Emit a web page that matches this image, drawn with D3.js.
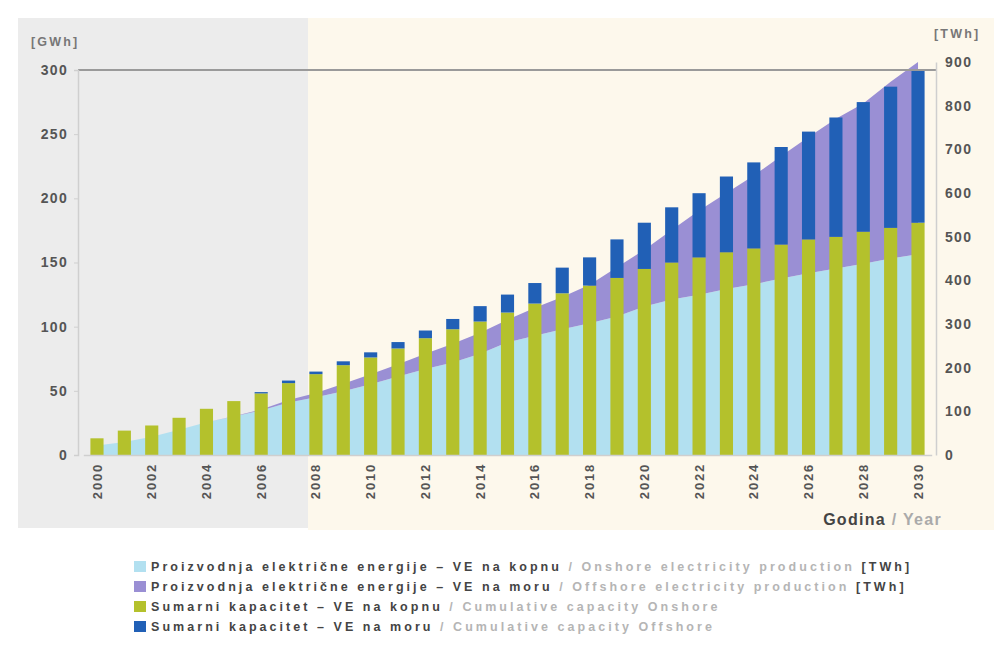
<!DOCTYPE html>
<html>
<head>
<meta charset="utf-8">
<script src="https://cdn.jsdelivr.net/npm/d3@7"></script>
<style>
  body { margin: 0; background: #fff; }
  svg { display: block; font-family: "Liberation Sans", Arial, sans-serif; }
</style>
</head>
<body>
<div id="chart"></div>
<script>
var w = 1000;
var h = 666;

// data
var years = d3.range(2000, 2031);
// cumulative capacity [GW] (left axis)
var capOnshore = [13, 19, 23, 29, 36, 42, 48, 56, 63, 70, 76, 83, 91, 98, 104, 111, 118, 126, 132, 138, 145, 150, 154, 158, 161, 164, 168, 170, 174, 177, 181];
var capOffshore = [0, 0, 0, 0, 0, 0, 1, 2, 2, 3, 4, 5, 6, 8, 12, 14, 16, 20, 22, 30, 36, 43, 50, 59, 67, 76, 84, 93, 101, 110, 119];
// electricity production [TWh] (right axis)
var prodOnshore = [22, 30, 42, 58, 75, 88, 102, 120, 132, 146, 162, 180, 197, 212, 232, 258, 273, 288, 302, 317, 340, 356, 367, 380, 391, 404, 416, 427, 438, 450, 460];
var prodOffshore = [0, 0, 0, 0, 0, 1, 2, 6, 10, 17, 23, 28, 35, 43, 48, 52, 64, 74, 88, 113, 130, 159, 193, 220, 249, 281, 312, 343, 367, 405, 440];
var leftTicks = [0, 50, 100, 150, 200, 250, 300];
var rightTicks = [0, 100, 200, 300, 400, 500, 600, 700, 800, 900];
var legendRows = [
  ["Proizvodnja električne energije – VE na kopnu", "Onshore electricity production", " [TWh]"],
  ["Proizvodnja električne energije – VE na moru", "Offshore electricity production", " [TWh]"],
  ["Sumarni kapacitet – VE na kopnu", "Cumulative capacity Onshore", ""],
  ["Sumarni kapacitet – VE na moru", "Cumulative capacity Offshore", ""]
];
var colors = ["#b2e0f0", "#9a8fd4", "#b4c12c", "#2160b6"];

var plotTop = 70, plotBottom = 455, plotLeft = 78, plotRight = 936;

var svg = d3.select("#chart").append("svg")
  .attr("width", w)
  .attr("height", h);

// backgrounds
svg.append("rect").attr("x", 18).attr("y", 18).attr("width", 290).attr("height", 510).attr("fill", "#ececec");
svg.append("rect").attr("x", 308).attr("y", 18).attr("width", 686).attr("height", 512).attr("fill", "#fdf8ec");

// scales
var x = d3.scaleBand()
  .domain(years)
  .range([83.3, 931.7])
  .paddingInner(0.52)
  .paddingOuter(0.26);
var yL = d3.scaleLinear().domain([0, 300]).range([plotBottom, plotTop]);
var yR = d3.scaleLinear().domain([0, 900]).range([plotBottom, 62]);
var cx = function(d) { return x(d) + x.bandwidth() / 2; };

// production areas (stacked)
var prodRows = years.map(function(y, i) {
  return { year: y, on: prodOnshore[i], off: prodOffshore[i] };
});
var prodStack = d3.stack().keys(["on", "off"])(prodRows);
var area = d3.area()
  .x(function(d) { return cx(d.data.year); })
  .y0(function(d) { return yR(d[0]); })
  .y1(function(d) { return yR(d[1]); });
svg.append("g").selectAll("path")
  .data(prodStack)
  .enter().append("path")
  .attr("d", area)
  .attr("fill", function(d, i) { return colors[i]; });

// capacity bars (stacked)
var capRows = years.map(function(y, i) {
  return { year: y, on: capOnshore[i], off: capOffshore[i] };
});
var capStack = d3.stack().keys(["on", "off"])(capRows);
svg.append("g").selectAll("g")
  .data(capStack)
  .enter().append("g")
  .attr("fill", function(d, i) { return colors[i + 2]; })
  .selectAll("rect")
  .data(function(d) { return d; })
  .enter().append("rect")
  .attr("x", function(d) { return x(d.data.year); })
  .attr("y", function(d) { return yL(d[1]); })
  .attr("width", x.bandwidth())
  .attr("height", function(d) { return yL(d[0]) - yL(d[1]); });

// top line
svg.append("line")
  .attr("x1", plotLeft).attr("x2", plotRight)
  .attr("y1", plotTop).attr("y2", plotTop)
  .attr("stroke", "#9a9a9a").attr("stroke-width", 2);

// axes
var axisL = d3.axisLeft(yL).tickValues(leftTicks).tickSize(4).tickPadding(6);
var axisR = d3.axisRight(yR).tickValues(rightTicks).tickSize(0).tickPadding(9);
var axisB = d3.axisBottom(x).tickValues(years.filter(function(d) { return d % 2 === 0; })).tickSize(0);

var gL = svg.append("g").attr("transform", "translate(" + plotLeft + ",0)").call(axisL);
var gR = svg.append("g").attr("transform", "translate(" + plotRight + ",0)").call(axisR);
var gB = svg.append("g").attr("transform", "translate(0," + plotBottom + ")").call(axisB);

[gL, gR, gB].forEach(function(g) {
  g.select(".domain").attr("stroke", "#cfcfcf").attr("stroke-width", 1.5);
  g.selectAll(".tick line").attr("stroke", "#cfcfcf");
  g.selectAll("text")
    .attr("fill", "#555")
    .style("font-size", "14px")
    .style("font-weight", "bold")
    .style("letter-spacing", "1.3px")
    .style("font-family", "'Liberation Sans', Arial, sans-serif");
});
gB.selectAll("text")
  .attr("transform", "rotate(-90)")
  .attr("text-anchor", "end")
  .attr("x", -8)
  .attr("y", 0)
  .attr("dy", "0.35em")
  .style("font-size", "13px")
  .style("letter-spacing", "1.8px");

// unit labels
svg.append("text").attr("x", 31).attr("y", 46)
  .attr("fill", "#777").style("font-size", "12.5px").style("font-weight", "bold")
  .style("letter-spacing", "2.2px")
  .text("[GWh]");
svg.append("text").attr("x", 934).attr("y", 38)
  .attr("fill", "#777").style("font-size", "12.5px").style("font-weight", "bold")
  .style("letter-spacing", "2.2px")
  .text("[TWh]");

// x axis title
var xt = svg.append("text").attr("x", 942).attr("y", 525).attr("text-anchor", "end")
  .style("font-size", "16px").style("font-weight", "bold")
  .style("letter-spacing", "1.3px");
xt.append("tspan").attr("fill", "#444").text("Godina ");
xt.append("tspan").attr("fill", "#aaa").text("/ Year");

// legend
var lg = svg.append("g").selectAll("g")
  .data(legendRows)
  .enter().append("g")
  .attr("transform", function(d, i) { return "translate(134," + (561 + i * 20) + ")"; });
lg.append("rect")
  .attr("width", 12).attr("height", 11)
  .attr("fill", function(d, i) { return colors[i]; });
var lt = lg.append("text")
  .attr("x", 17).attr("y", 10)
  .style("font-size", "12.5px").style("font-weight", "bold")
  .style("letter-spacing", "3.05px");
lt.append("tspan").attr("fill", "#444").text(function(d) { return d[0] + " "; });
lt.append("tspan").attr("fill", "#b5b5b5").text(function(d) { return "/ " + d[1]; });
lt.append("tspan").attr("fill", "#444").text(function(d) { return d[2]; });
</script>
</body>
</html>
